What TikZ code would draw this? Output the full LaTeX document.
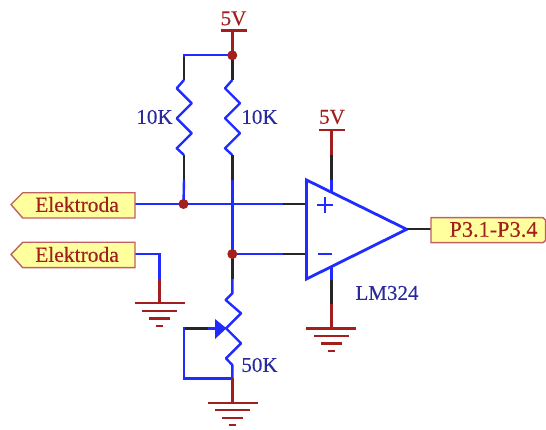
\documentclass[tikz,border=0pt]{standalone}
\usepackage{fontspec}
\setmainfont{Liberation Serif}
\newfontfamily\heavyserif[FakeBold=0.25]{Liberation Serif}
\definecolor{wblue}{HTML}{1F2BFF}
\definecolor{wred}{HTML}{A31F1F}
\definecolor{wblack}{HTML}{262626}
\definecolor{tblue}{HTML}{2A2A9E}
\definecolor{lfill}{HTML}{FFFF9E}
\definecolor{ledge}{HTML}{C06060}
\tikzset{
  bluewire/.style={draw=wblue,line width=2.4pt,line join=miter},
  blackwire/.style={draw=wblack,line width=2.4pt},
  redwire/.style={draw=wred,line width=2.4pt},
  portbox/.style={draw=ledge,fill=lfill,line width=1.4pt,line join=miter},
  dotj/.style={circle,fill=wred,inner sep=0pt,minimum size=10pt},
  porttext/.style={text=wred,font=\heavyserif\fontsize{21.5}{22}\selectfont,inner sep=0pt},
  outtext/.style={text=wred,font=\heavyserif\fontsize{22.3}{23}\selectfont,inner sep=0pt},
  pwrtext/.style={text=wred,font=\heavyserif\fontsize{21}{21}\selectfont,inner sep=0pt},
  valtext/.style={text=tblue,font=\heavyserif\fontsize{21}{21}\selectfont,inner sep=0pt},
}
\newcommand{\gndsym}[2]{%
  \draw[redwire] (#1-25,#2) -- (#1+25,#2);
  \draw[redwire] (#1-17.5,#2+7.5) -- (#1+17.5,#2+7.5);
  \draw[redwire] (#1-10.5,#2+15) -- (#1+10.5,#2+15);
  \draw[redwire] (#1-3.5,#2+22.5) -- (#1+3.5,#2+22.5);
}
\begin{document}
\begin{tikzpicture}[x=1pt,y=-1pt]
\useasboundingbox (0,0) rectangle (546,430);
% coordinates
\coordinate (top) at (232.3,55.3);
\coordinate (topL) at (184,55.3);
\coordinate (jA) at (183.5,204);
\coordinate (jB) at (232.3,254);
\coordinate (inP) at (306.5,204);
\coordinate (inM) at (306.5,254);
\coordinate (opT) at (306.5,180);
\coordinate (opB) at (306.5,279);
\coordinate (opO) at (406.7,229.3);
\coordinate (vccA) at (232.3,30.7);
\coordinate (vccB) at (331.3,130);
\coordinate (gndA) at (159.5,303.3);
\coordinate (gndB) at (331.3,328.3);
\coordinate (gndC) at (232.3,402.7);
\coordinate (wip) at (184,328.3);
\coordinate (potB) at (232.3,378.3);
% left branch
\draw[blackwire] (184,56) -- (184,80);
\draw[bluewire] (top) -- (topL) -- (184,57);
\draw[bluewire,line join=round] (184,80) -- (176.7,88.3) -- (191.7,103.3) -- (176.7,118.3) -- (191.7,133.3) -- (176.7,148.3) -- (184,155);
\draw[blackwire] (184,155) -- (184,180);
\draw[bluewire] (184,180) -- (jA);
% right branch
\draw[blackwire] (top) -- (232.3,80);
\draw[bluewire,line join=round] (232.3,80) -- (225,88.3) -- (240,103.3) -- (225,118.3) -- (240,133.3) -- (225,148.3) -- (232.3,155);
\draw[blackwire] (232.3,155) -- (232.3,180);
\draw[bluewire] (232.3,180) -- (jB);
\draw[blackwire] (jB) -- (232.3,279);
\draw[bluewire,line join=round] (232.3,279) -- (232.3,293.3) -- (225.7,300) -- (241,313.3) -- (226,328.3) -- (241,343.3) -- (226,358.3) -- (232.3,365) -- (potB);
\draw[redwire] (potB) -- (gndC);
\draw[bluewire] (potB) -- (184,378.3) -- (wip) -- (186,328.3);
\draw[blackwire] (185,328.3) -- (208,328.3);
\draw[bluewire] (208,328.3) -- (216,328.3);
\fill[wblue] (226.5,328.3) -- (215,319) -- (215,339) -- cycle;
% inputs
\draw[bluewire] (135,204) -- (283,204);
\draw[blackwire] (283,204) -- (inP);
\draw[bluewire] (jB) -- (283,254);
\draw[blackwire] (283,254) -- (inM);
\draw[bluewire] (135,254.3) -- (159.5,254.3) -- (159.5,279);
\draw[redwire] (159.5,279) -- (gndA);
% power symbols
\draw[redwire] (top) -- (vccA);
\draw[redwire] (220.7,30.7) -- (246.7,30.7);
\draw[redwire] (vccB) -- (331.3,155);
\draw[blackwire] (331.3,155) -- (331.3,180);
\draw[bluewire] (331.3,180) -- (331.3,192);
\draw[redwire] (318.5,130) -- (344.5,130);
\draw[bluewire] (331.3,267) -- (331.3,280);
\draw[blackwire] (331.3,280) -- (331.3,304);
\draw[redwire] (331.3,304) -- (gndB);
\gndsym{159.5}{303.3}
\gndsym{331.3}{328.3}
\gndsym{232.7}{402.7}
% op amp
\draw[bluewire,line width=2.8pt,line join=miter] (opT) -- (opO) -- (opB) -- cycle;
\draw[blackwire] (opO) -- (431,229.3);
\draw[wblue,line width=2.4pt] (317,205) -- (333,205) (325,197) -- (325,213);
\draw[wblue,line width=2.4pt] (318,254) -- (332,254);
% junctions
\node[dotj] (dA) at (jA) {};
\node[dotj] (dB) at (jB) {};
\node[dotj] (dT) at (top) {};
% ports
\draw[portbox] (135,192.8) -- (22.7,192.8) -- (11,204.5) -- (22.7,218) -- (135,218) -- cycle;
\draw[portbox] (135,242.3) -- (22.7,242.3) -- (11,254.5) -- (22.7,267.7) -- (135,267.7) -- cycle;
\draw[portbox] (431,217.7) -- (543,217.7) -- (545.5,220) -- (545.5,240.5) -- (543,242.7) -- (431,242.7) -- cycle;
\node[porttext] (elekA) at (77,204.5) {Elektroda};
\node[porttext] (elekB) at (77,254.5) {Elektroda};
\node[outtext] (out) at (493.5,229.5) {P3.1-P3.4};
% labels
\node[pwrtext] (v1) at (233.5,18.5) {5V};
\node[pwrtext] (v2) at (332,117) {5V};
\node[valtext] (r1) at (154.5,117) {10K};
\node[valtext] (r2) at (259.5,117) {10K};
\node[valtext] (r3) at (259.5,365) {50K};
\node[valtext] (u1) at (387,293) {LM324};
\end{tikzpicture}
\end{document}
